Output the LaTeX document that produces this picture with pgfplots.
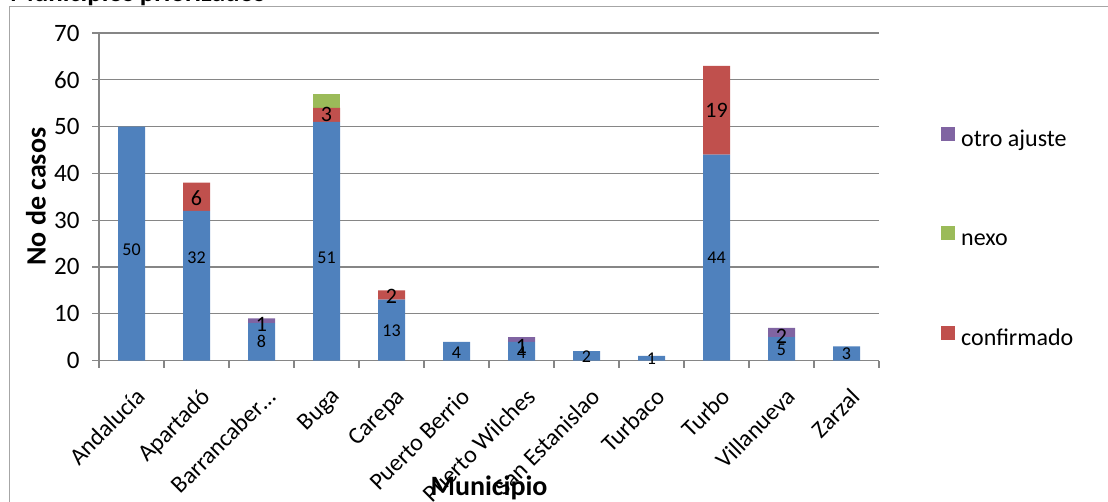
\documentclass[border=0pt]{standalone}
\usepackage{pgfplots}
\pgfplotsset{compat=1.18}
\usepackage{fontspec}
\setmainfont{Carlito}
\definecolor{cblue}{HTML}{4F81BD}
\definecolor{cred}{HTML}{C0504D}
\definecolor{cgreen}{HTML}{9BBB59}
\definecolor{cpurple}{HTML}{8064A2}
\definecolor{cgrid}{HTML}{868686}
\definecolor{cframe}{HTML}{A6A6A6}
\newcommand{\tickfont}{\fontsize{25bp}{29bp}\selectfont}
\newcommand{\xtickfont}{\fontsize{24bp}{28bp}\selectfont}
\begin{document}
\begin{tikzpicture}
\pgfplotsset{
  common/.style={
    at={(99bp,-360.5bp)}, anchor=south west,
    scale only axis, width=780bp, height=327.5bp,
    xmin=-0.5, xmax=11.5, ymin=0, ymax=70,
  }
}
\begin{axis}[
  common,
  ybar stacked, bar width=27bp,
  axis x line*=bottom, axis y line*=left,
  axis line style={cgrid, line width=1.2bp},
  tick align=outside, major tick length=7bp,
  tick style={cgrid, line width=1.2bp},
  ymajorgrids, grid style={cgrid, line width=1.2bp},
  ytick={0,10,...,70},
  xtick={-0.5,0.5,...,11.5}, xticklabels={},
  extra x ticks={0,...,11},
  extra x tick labels={Andalucía,Apartadó,Barrancaber…,Buga,Carepa,Puerto Berrio,Puerto Wilches,San Estanislao,Turbaco,Turbo,Villanueva,Zarzal},
  extra x tick style={major tick length=0pt, grid=none,
    xticklabel style={font=\xtickfont, rotate=45, anchor=north east, inner sep=0pt, xshift=-16bp, yshift=-21bp}},
  /pgf/number format/assume math mode=true,
  yticklabel style={font=\tickfont, text=black, xshift=-9bp},
  xlabel={Municipio}, ylabel={No de casos},
  label style={font=\bfseries\fontsize{28bp}{32bp}\selectfont},
  xlabel style={at={(axis description cs:0.5,-0.389)}, anchor=center},
  ylabel style={at={(axis description cs:-0.081,0.5)}, anchor=center, rotate=0},
  reverse legend,
  legend style={at={(axis description cs:1.0795,0.714)}, anchor=north west, draw=none, fill=none,
    font=\fontsize{24bp}{28bp}\selectfont, row sep=75bp, inner sep=0pt,
    nodes={inner sep=0pt, text height=17bp, text depth=5bp}},
  legend cell align=left,
  legend image code/.code={\fill[#1] (0bp,-0.5bp) rectangle (14bp,13.5bp); \path (20bp,0bp);},
]
\addplot[fill=cblue, draw=none, forget plot] coordinates {(0,50) (1,32) (2,8) (3,51) (4,13) (5,4) (6,4) (7,2) (8,1) (9,44) (10,5) (11,3)};
\addplot[fill=cred, draw=none] coordinates {(0,0) (1,6) (2,0) (3,3) (4,2) (5,0) (6,0) (7,0) (8,0) (9,19) (10,0) (11,0)};
\addlegendentry{confirmado}
\addplot[fill=cgreen, draw=none] coordinates {(0,0) (1,0) (2,0) (3,3) (4,0) (5,0) (6,0) (7,0) (8,0) (9,0) (10,0) (11,0)};
\addlegendentry{nexo}
\addplot[fill=cpurple, draw=none] coordinates {(0,0) (1,0) (2,1) (3,0) (4,0) (5,0) (6,1) (7,0) (8,0) (9,0) (10,2) (11,0)};
\addlegendentry{otro ajuste}
\end{axis}
\begin{axis}[common, hide axis]
\addplot[only marks, mark=none, nodes near coords, point meta=explicit symbolic,
  every node near coord/.append style={anchor=center, inner sep=0pt, font=\fontsize{18bp}{20bp}\selectfont, text=black}]
  coordinates {(0,23.6)[50] (1,21.9)[32] (2,4.0)[8] (3,21.9)[51] (4,6.3)[13] (5,1.6)[4] (6,1.7)[4] (7,0.75)[2] (8,0.35)[1] (9,21.9)[44] (10,2.2)[5] (11,1.4)[3]};
\addplot[only marks, mark=none, nodes near coords, point meta=explicit symbolic,
  every node near coord/.append style={anchor=center, inner sep=0pt, font=\fontsize{22bp}{24bp}\selectfont, text=black}]
  coordinates {(1,34.7)[6] (3,52.6)[3] (4,13.8)[2] (9,53.4)[19] (2,7.8)[1] (6,3.1)[1] (10,5.1)[2]};
\end{axis}
\draw[cframe, line width=1.5bp] (9.5bp,-502bp) -- (9.5bp,-6.5bp) -- (1108bp,-6.5bp);
\node[anchor=base west, inner sep=0pt, font=\bfseries\fontsize{27bp}{30bp}\selectfont] at (10bp,-1bp) {Municipios priorizados};
\pgfresetboundingbox
\useasboundingbox (0,0) rectangle (1108bp,-502bp);
\end{tikzpicture}
\end{document}
